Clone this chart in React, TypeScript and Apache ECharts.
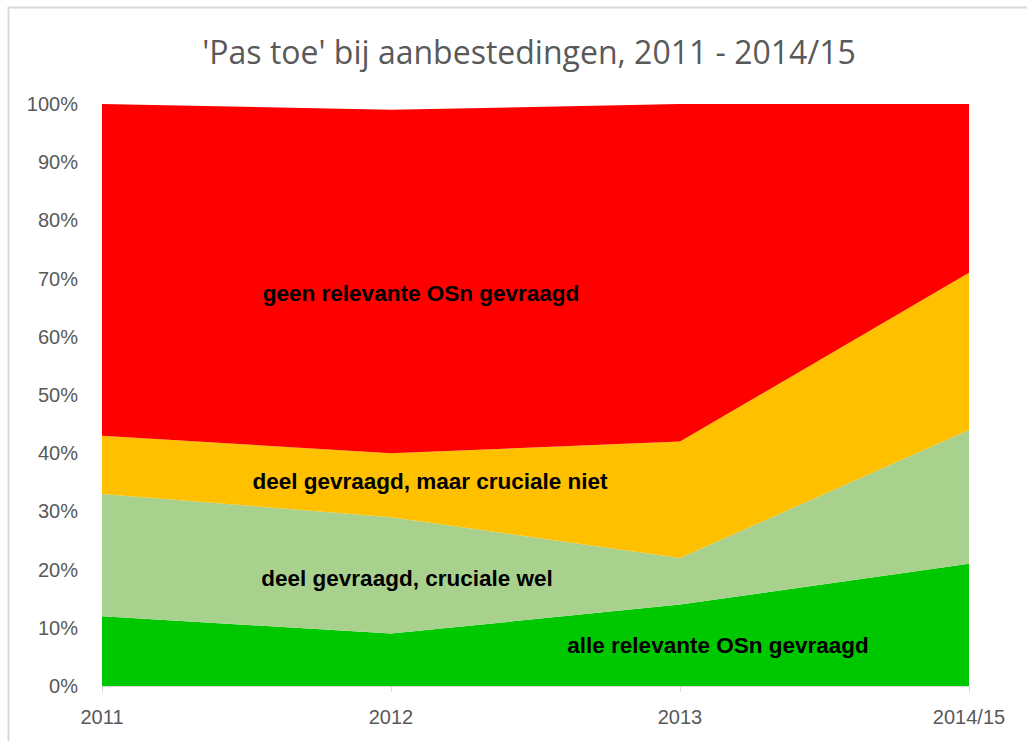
import React, { useEffect, useRef } from "react";
import * as echarts from "echarts";

const categories = ["2011", "2012", "2013", "2014/15"];
const alleRelevant = [12, 9, 14, 21];
const crucialeWel = [21, 20, 8, 23];
const cruciaalNiet = [10, 11, 20, 27];
const geenRelevant = [57, 59, 58, 29];
const yTicks = [0, 10, 20, 30, 40, 50, 60, 70, 80, 90, 100];

const seriesDefs = [
  { name: "alle relevante OSn gevraagd", data: alleRelevant, color: "#00c800" },
  { name: "deel gevraagd, cruciale wel", data: crucialeWel, color: "#a9d18e" },
  { name: "deel gevraagd, maar cruciale niet", data: cruciaalNiet, color: "#ffc000" },
  { name: "geen relevante OSn gevraagd", data: geenRelevant, color: "#ff0000" },
];

const labelPositions = [
  { text: "alle relevante OSn gevraagd", x: 718, y: 645 },
  { text: "deel gevraagd, cruciale wel", x: 407, y: 578 },
  { text: "deel gevraagd, maar cruciale niet", x: 430, y: 481 },
  { text: "geen relevante OSn gevraagd", x: 421, y: 293 },
];

const FONT = "'Liberation Sans', Arial, sans-serif";
const TITLE_FONT = "'Open Sans', 'Liberation Sans', sans-serif";

export default function App() {
  const ref = useRef<HTMLDivElement>(null);
  useEffect(() => {
    if (!ref.current) return;
    const chart = echarts.init(ref.current, null, { renderer: "svg" });
    chart.setOption({
      animation: false,
      backgroundColor: "#ffffff",
      title: {
        text: "'Pas toe' bij aanbestedingen, 2011 - 2014/15",
        left: 524,
        textAlign: "center",
        top: 30,
        textStyle: { fontFamily: TITLE_FONT, fontSize: 32, fontWeight: "normal", color: "#595959" },
      },
      grid: { left: 102, right: 58, top: 104, bottom: 55 },
      xAxis: {
        type: "category",
        data: categories,
        boundaryGap: false,
        axisLine: { lineStyle: { color: "#d9d9d9", width: 1 } },
        axisTick: { show: true, length: 6, lineStyle: { color: "#d9d9d9" } },
        axisLabel: { fontFamily: FONT, fontSize: 20, color: "#595959", margin: 21 },
      },
      yAxis: {
        type: "value",
        min: 0,
        max: 100,
        interval: 10,
        axisLine: { show: false },
        axisTick: { show: false },
        splitLine: { show: false },
        axisLabel: {
          fontFamily: FONT,
          fontSize: 20,
          color: "#595959",
          margin: 24,
          formatter: (v: number) => (yTicks.includes(v) ? v + "%" : ""),
        },
      },
      series: seriesDefs.map((s) => ({
        name: s.name,
        type: "line",
        stack: "total",
        data: s.data,
        symbol: "none",
        lineStyle: { width: 0 },
        areaStyle: { color: s.color, opacity: 1 },
        itemStyle: { color: s.color },
      })),
      graphic: [
        {
          type: "rect",
          shape: { x: 8.5, y: 7.5, width: 1100, height: 800 },
          style: { fill: "none", stroke: "#d9d9d9", lineWidth: 2 },
          silent: true,
          z: 100,
        },
        ...labelPositions.map((l) => ({
          type: "text",
          x: l.x,
          y: l.y,
          z: 100,
          style: {
            text: l.text,
            fontFamily: FONT,
            fontSize: 22.5,
            fontWeight: "bold",
            fill: "#000000",
            textAlign: "center",
            textVerticalAlign: "middle",
          },
        })),
      ],
    });
    return () => chart.dispose();
  }, []);
  return (
    <div
      ref={ref}
      style={{ position: "absolute", left: 0, top: 0, width: 1027, height: 741 }}
    />
  );
}
